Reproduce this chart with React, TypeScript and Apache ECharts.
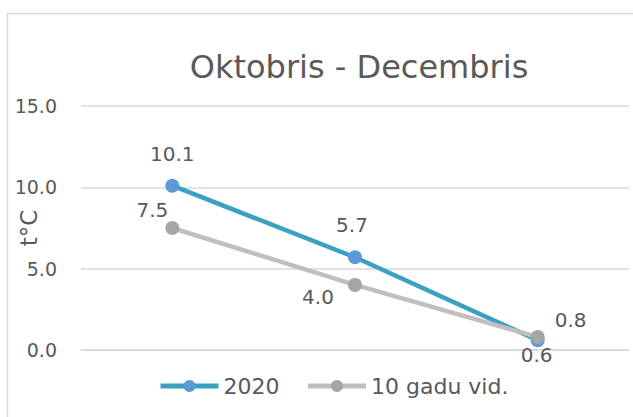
import React, { useEffect, useRef } from "react";
import * as echarts from "echarts";

const categories = ["Oktobris", "Novembris", "Decembris"];
const series2020 = [10.1, 5.7, 0.6];
const seriesAvg = [7.5, 4.0, 0.8];
const yTicks = [0, 5, 10, 15];

const FONT = "DejaVu Sans";
const TXT = "#595959";

export default function App() {
  const ref = useRef<HTMLDivElement>(null);
  useEffect(() => {
    if (!ref.current) return;
    const chart = echarts.init(ref.current, undefined, { renderer: "svg" });
    const off2020 = [[0, -32], [-3, -32], [-1, 15]];
    const offAvg = [[-20, -18], [-37, 12], [33, -17]];
    const labelBase = {
      show: true,
      position: "inside",
      fontFamily: FONT,
      fontSize: 20,
      color: TXT,
      formatter: (p: any) => Number(p.value).toFixed(1),
    };
    chart.setOption({
      animation: false,
      backgroundColor: "#fff",
      textStyle: { fontFamily: FONT },
      title: {
        text: "Oktobris - Decembris",
        left: 354,
        top: 46,
        textAlign: "center",
        textStyle: { fontFamily: FONT, fontSize: 32, fontWeight: "normal", color: TXT },
      },
      graphic: [
        {
          type: "rect",
          shape: { x: 7.5, y: 13.5, width: 700, height: 500 },
          style: { fill: "none", stroke: "#D9D9D9", lineWidth: 1.5 },
          silent: true,
        },
      ],
      legend: {
        bottom: 15,
        left: 153,
        itemWidth: 58,
        itemHeight: 15,
        itemGap: 26,
        lineStyle: { width: 5 },
        textStyle: { fontFamily: FONT, fontSize: 22, color: TXT },
        data: ["2020", "10 gadu vid."],
      },
      grid: { left: 81, right: 4, top: 106, bottom: 67, outerBoundsMode: "none", containLabel: false },
      xAxis: {
        type: "category",
        data: categories,
        boundaryGap: true,
        axisLine: { lineStyle: { color: "#D9D9D9", width: 1.5 } },
        axisTick: { show: false },
        axisLabel: { show: false },
      },
      yAxis: {
        type: "value",
        min: yTicks[0],
        max: yTicks[yTicks.length - 1],
        interval: 5,
        name: "t°C",
        nameLocation: "middle",
        nameGap: 41,
        nameMoveOverlap: false,
        nameRotate: 90,
        nameTextStyle: { fontFamily: FONT, fontSize: 23, color: TXT },
        axisLine: { show: false },
        axisTick: { show: false },
        axisLabel: {
          fontFamily: FONT,
          fontSize: 19,
          color: TXT,
          margin: 24,
          formatter: (v: number) => v.toFixed(1),
        },
        splitLine: { lineStyle: { color: "#D9D9D9", width: 1.5 } },
      },
      series: [
        {
          name: "2020",
          type: "line",
          data: series2020.map((v, i) => ({
            value: v,
            label: { offset: off2020[i] },
          })),
          symbol: "circle",
          symbolSize: 14,
          itemStyle: { color: "#5B9BD5" },
          lineStyle: { color: "#3BA1C3", width: 4.5 },
          label: labelBase,
          z: 3,
        },
        {
          name: "10 gadu vid.",
          type: "line",
          data: seriesAvg.map((v, i) => ({
            value: v,
            label: { offset: offAvg[i] },
          })),
          symbol: "circle",
          symbolSize: 14,
          itemStyle: { color: "#A5A5A5" },
          lineStyle: { color: "#BFBFBF", width: 4.5 },
          label: labelBase,
          z: 4,
        },
      ],
    });
    return () => chart.dispose();
  }, []);
  return (
    <div
      ref={ref}
      style={{ position: "fixed", left: 0, top: 0, width: 633, height: 417 }}
    />
  );
}
